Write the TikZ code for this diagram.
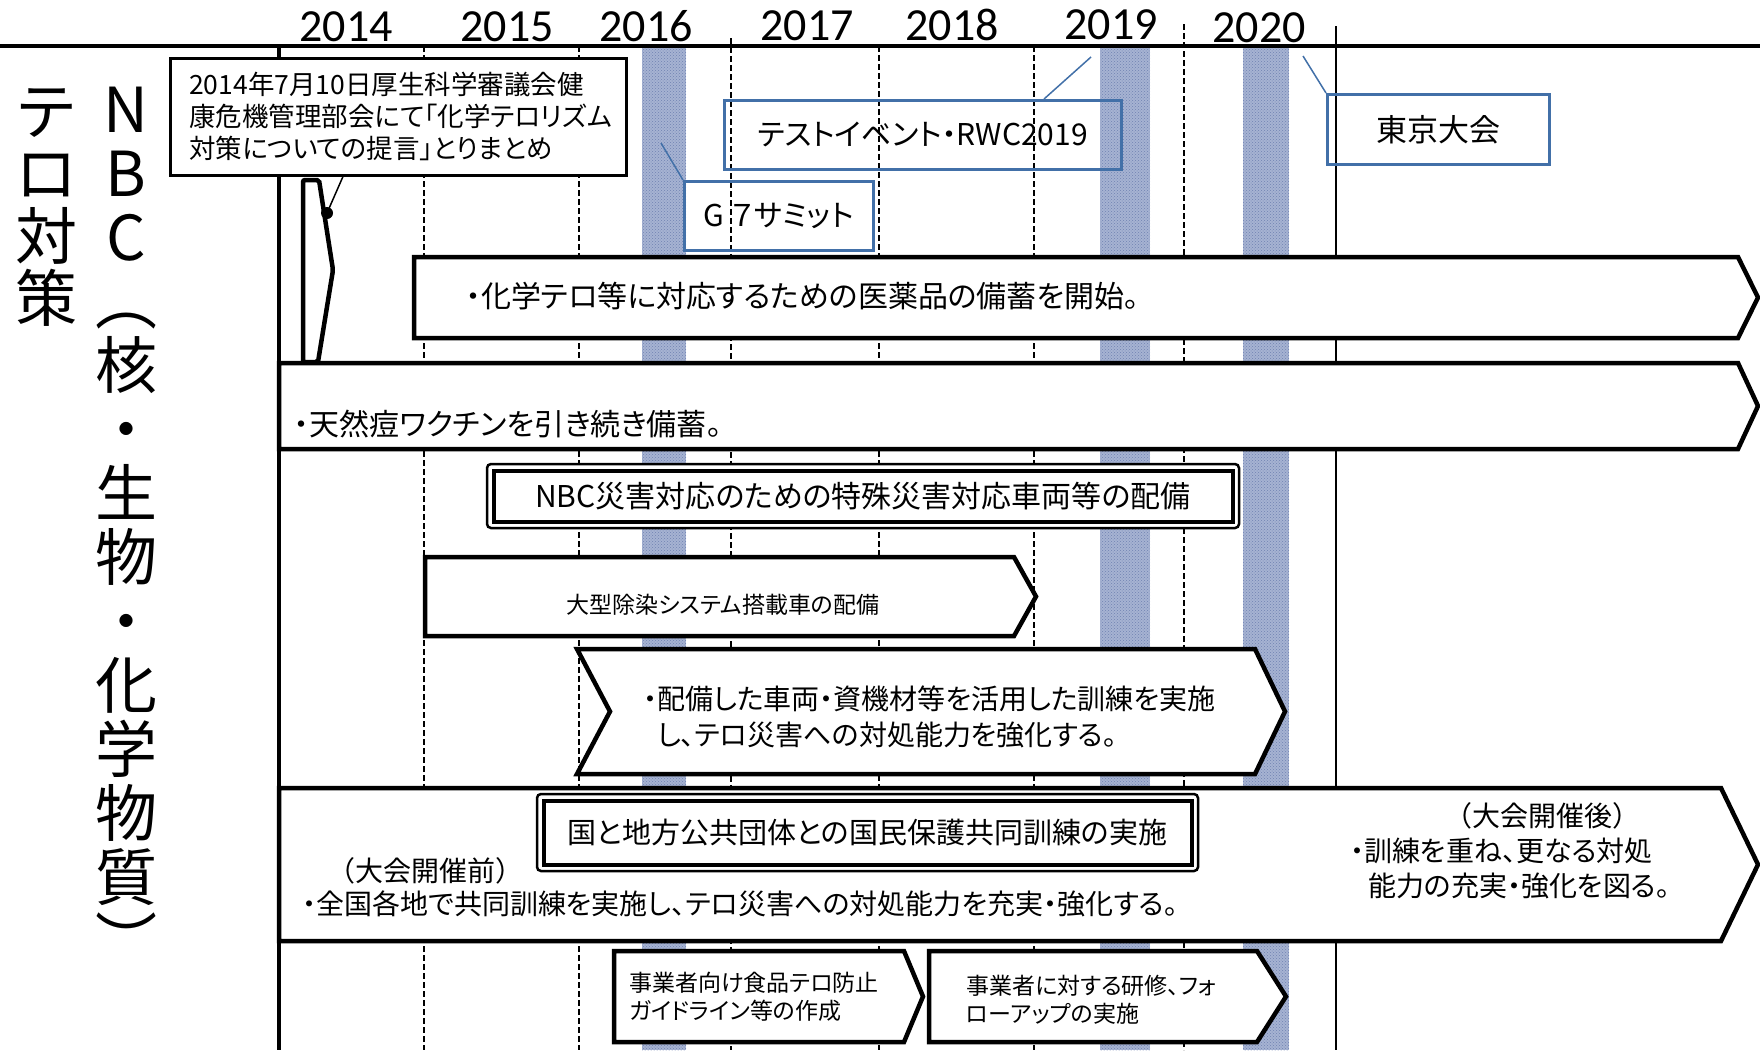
\documentclass[tikz,border=0pt]{standalone}
\usepackage{fontspec}
\usepackage{tikz}
\usetikzlibrary{patterns}
\newfontfamily\jpFont[RawFeature=+palt]{Noto Sans CJK JP}
\newfontfamily\jpTitleFont{Noto Sans CJK JP}
\newfontfamily\yearFont{Carlito}
\newcommand{\jpSize}[2]{\jpFont\fontsize{#1}{#2}\selectfont}
\tikzstyle{timeline} = [x = 1pt, y = -1pt, every node/.style={inner sep = 0pt}]
\definecolor{bandColor}{RGB}{166,179,210}
\definecolor{bandDots}{RGB}{112,130,178}
\definecolor{eventBlue}{RGB}{66,112,168}
\tikzstyle{bandStyle} = [fill = bandColor, postaction = {pattern = crosshatch dots, pattern color = bandDots}]
\tikzstyle{axisLine} = [color = black, line width = 4pt]
\tikzstyle{yearLineStyle} = [color = black, line width = 1.4pt, dash pattern = on 6pt off 3pt]
\tikzstyle{edgeLine} = [color = black, line width = 1.3pt]
\tikzstyle{yearText} = [anchor = base, font = \yearFont\fontsize{46}{46}\selectfont]
\tikzstyle{titleText} = [anchor = base, font = \jpTitleFont\fontsize{62}{62}\selectfont]
\tikzstyle{barStyle} = [color = black, fill = white, line width = 4.5pt]
\tikzstyle{barText} = [anchor = west, align = left, font = \jpSize{30}{36}]
\tikzstyle{smallBarText} = [anchor = west, align = left, font = \jpSize{23}{28}]
\tikzstyle{outerFrame} = [color = black, fill = white, line width = 2.5pt, rounded corners = 4pt]
\tikzstyle{innerFrame} = [draw = black, line width = 4pt, font = \jpSize{29}{34}]
\tikzstyle{noteBox} = [draw = black, fill = white, line width = 2.5pt, anchor = north west, align = left, inner xsep = 19pt, text width = 418pt, minimum height = 117pt, font = \jpSize{26.5}{32}]
\tikzstyle{noteLine} = [color = black, line width = 1.5pt]
\tikzstyle{eventBoxStyle} = [draw = eventBlue, line width = 2.5pt, anchor = north west, font = \jpSize{29}{34}]
\tikzstyle{eventPin} = [color = eventBlue, line width = 1.5pt]
\newcommand{\eventBand}[2]{\fill [bandStyle] (#1, 46) rectangle (#2, 1050);}
\newcommand{\yearLine}[2]{\draw [yearLineStyle] (#1, #2) -- (#1, 1050);}
\newcommand{\yearLabel}[3]{\node [yearText] (year#1) at (#2, #3) {#1};}
\newcommand{\arrowBar}[5]{\filldraw [barStyle] (#1, #2) -- (#3, #2) -- (#5, {(#2 + #4) / 2}) -- (#3, #4) -- (#1, #4) -- cycle;}
\newcommand{\chevronBar}[6]{\filldraw [barStyle] (#1, #2) -- (#3, #2) -- (#5, {(#2 + #4) / 2}) -- (#3, #4) -- (#1, #4) -- (#6, {(#2 + #4) / 2}) -- cycle;}
\newcommand{\doubleBox}[7]{
  \draw [outerFrame] (#1, #2) rectangle (#3, #4);
  \node [innerFrame, minimum width = #3 - #1 - 13, minimum height = #4 - #2 - 13, font = \jpSize{#7}{34}] (#5) at ({(#1 + #3) / 2}, {(#2 + #4) / 2}) {#6};
}

\begin{document}
\begin{tikzpicture}[timeline]
          \useasboundingbox (0, 0) rectangle (1760, 1050);
          \eventBand{642}{686}
          \eventBand{1100}{1150}
          \eventBand{1243}{1289}
          \yearLine{424}{46}
          \yearLine{579}{46}
          \yearLine{731}{38}
          \yearLine{879}{46}
          \yearLine{1034}{46}
          \yearLine{1184}{24}
          \draw [edgeLine] (1336, 26) -- (1336, 1050);
          \draw [axisLine] (0, 46) -- (1760, 46);
          \draw [axisLine] (279, 46) -- (279, 1050);
          \yearLabel{2014}{346}{41}
          \yearLabel{2015}{507}{41}
          \yearLabel{2016}{646}{41}
          \yearLabel{2017}{807}{40}
          \yearLabel{2018}{952}{40}
          \yearLabel{2019}{1111}{39}
          \yearLabel{2020}{1259}{42}

          \foreach \glyph [count = \n] in {テ,ロ,対,策} {
            \node [titleText] (terror\n) at (47, {111 + 23 + (\n - 1) * 62.5}) {\glyph};
          }
          \foreach \glyph [count = \n] in {N,B,C,︵,核,・,生,物,・,化,学,物,質,︶} {
            \node [titleText] (nbc\n) at (126, {109 + 23 + (\n - 1) * 64}) {\glyph};
          }

          \node [noteBox] (noteBox) at (169, 57) {2014年7月10日厚生科学審議会健\\康危機管理部会にて「化学テロリズム\\対策についての提言」とりまとめ};
          \filldraw [barStyle, rounded corners = 2pt] (303, 362) -- (303, 180) -- (319, 180) -- (333, 270) -- (318, 362) -- cycle;
          \coordinate (notePin) at (327, 213);
          \fill (notePin) circle (6);
          \draw [noteLine] (notePin) -- ([xshift = 174pt]noteBox.south west);

          \arrowBar{414}{257}{1738}{338}{1758}
          \node [barText] (drugText) at (466, 296) {・化学テロ等に対応するための医薬品の備蓄を開始。};
          \arrowBar{279}{363}{1738}{449}{1758}
          \node [barText] (vaccineText) at (294, 424) {・天然痘ワクチンを引き続き備蓄。};
          \doubleBox{487}{464}{1239}{528}{vehicleBox}{NBC災害対応のための特殊災害対応車両等の配備}{30}
          \arrowBar{425}{557}{1014}{636}{1036}
          \node [smallBarText, anchor = center] (decontText) at (723, 605) {大型除染システム搭載車の配備};
          \chevronBar{577}{649}{1255}{774}{1285}{610}
          \node [barText, font = \jpSize{28}{36}] (trainText) at (643, 717) {・配備した車両・資機材等を活用した訓練を実施\\\hspace*{14pt}し、テロ災害への対処能力を強化する。};
          \arrowBar{279}{788}{1721}{941}{1758}
          \doubleBox{537}{794}{1198}{871}{drillBox}{国と地方公共団体との国民保護共同訓練の実施}{29}
          \node [barText, font = \jpSize{28}{33}] (beforeText) at (302, 887) {\hspace*{25pt}{\jpTitleFont （大会開催前）}\\・全国各地で共同訓練を実施し、テロ災害への対処能力を充実・強化する。};
          \node [barText, font = \jpSize{28}{35}] (afterText) at (1350, 851) {\hspace*{94pt}{\jpTitleFont （大会開催後）}\\・訓練を重ね、更なる対処\\\hspace*{18pt}能力の充実・強化を図る。};
          \arrowBar{614}{951}{904}{1042}{923}
          \node [smallBarText] (guideText) at (629, 997) {事業者向け食品テロ防止\\ガイドライン等の作成};
          \arrowBar{929}{951}{1257}{1042}{1286}
          \node [smallBarText] (seminarText) at (966, 1000) {事業者に対する研修、フォ\\ローアップの実施};

          \node [eventBoxStyle, minimum width = 189, minimum height = 69, font = \jpSize{30}{34}] (g7Box) at (683, 180) {G ７サミット};
          \node [eventBoxStyle, minimum width = 397, minimum height = 69, font = \jpSize{30}{34}] (rwcBox) at (723, 99) {テストイベント・RWC2019};
          \node [eventBoxStyle, minimum width = 222, minimum height = 70, font = \jpSize{31}{36}] (tokyoBox) at (1326, 93) {東京大会};
          \coordinate (g7Pin) at (661, 143);
          \coordinate (rwcPin) at (1091, 57);
          \coordinate (tokyoPin) at (1303, 56);
          \draw [eventPin] (g7Pin) -- (g7Box.north west);
          \draw [eventPin] (rwcPin) -- ([xshift = 321pt]rwcBox.north west);
          \draw [eventPin] (tokyoPin) -- (tokyoBox.north west);
        \end{tikzpicture}
\end{document}
